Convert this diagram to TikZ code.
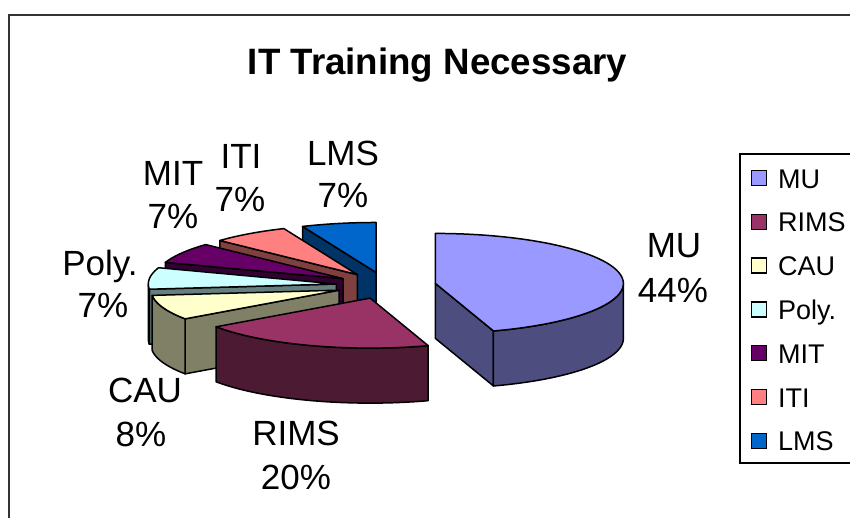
\documentclass[tikz,border=0pt]{standalone}
\usepackage{fontspec}
\setmainfont{Liberation Sans}
\definecolor{muTop}{HTML}{9999FF}
\definecolor{muDark}{HTML}{4D4D80}
\definecolor{rimsTop}{HTML}{993366}
\definecolor{rimsDark}{HTML}{4D1A33}
\definecolor{cauTop}{HTML}{FFFFCC}
\definecolor{cauDark}{HTML}{808066}
\definecolor{polyTop}{HTML}{CCFFFF}
\definecolor{polyDark}{HTML}{668080}
\definecolor{mitTop}{HTML}{660066}
\definecolor{mitDark}{HTML}{330033}
\definecolor{itiTop}{HTML}{FF8080}
\definecolor{itiDark}{HTML}{804040}
\definecolor{lmsTop}{HTML}{0066CC}
\definecolor{lmsDark}{HTML}{003366}
\newcommand\pcx{386}
\newcommand\pcy{285.5}
\newcommand\pexp{50}
\newcommand\prx{188}
\newcommand\pry{50}
\newcommand\pdep{55}
% #1 start angle, #2 end angle (clockwise from 12 o'clock), #3 top colour, #4 side colour, #5 name
\newcommand\pieslice[5]{%
  \pgfmathsetmacro\slmid{(#1+#2)/2}%
  \pgfmathsetmacro\slox{\pcx+\pexp*sin(\slmid)}%
  \pgfmathsetmacro\sloy{\pcy-\pexp*(\pry/\prx)*cos(\slmid)}%
  \coordinate (#5-o) at (\slox,\sloy);
  \coordinate (#5-ob) at (\slox,\sloy+\pdep);
  \coordinate (#5-a) at ({\slox+\prx*sin(#1)},{\sloy-\pry*cos(#1)});
  \coordinate (#5-b) at ({\slox+\prx*sin(#2)},{\sloy-\pry*cos(#2)});
  \pgfmathtruncatemacro\slsf{(#1>180) ? 1 : 0}%
  \pgfmathtruncatemacro\slef{(#2<180) ? 1 : 0}%
  \ifnum\slsf=1
    \filldraw[pieedge, fill=#4] (#5-o) -- (#5-a) -- ++(0,\pdep) -- (#5-ob) -- cycle;
  \fi
  \ifnum\slef=1
    \filldraw[pieedge, fill=#4] (#5-o) -- (#5-b) -- ++(0,\pdep) -- (#5-ob) -- cycle;
  \fi
  \pgfmathsetmacro\slc{max(#1,90)}%
  \pgfmathsetmacro\sld{min(#2,270)}%
  \pgfmathtruncatemacro\slrim{(\slc<\sld) ? 1 : 0}%
  \ifnum\slrim=1
    \filldraw[pieedge, fill=#4]
      plot[domain=\slc:\sld, samples=50] ({\slox+\prx*sin(\x)},{\sloy-\pry*cos(\x)})
      -- plot[domain=\sld:\slc, samples=50] ({\slox+\prx*sin(\x)},{\sloy+\pdep-\pry*cos(\x)})
      -- cycle;
  \fi
  \filldraw[pieedge, fill=#3] (#5-o)
    -- plot[domain=#1:#2, samples=60] ({\slox+\prx*sin(\x)},{\sloy-\pry*cos(\x)})
    -- cycle;
}
\begin{document}
\begin{tikzpicture}[x=1pt,y=-1pt,
  pieedge/.style={draw=black, line width=1.5pt, line join=round},
  lbl/.style={anchor=base, inner sep=0pt, font=\fontsize{35}{42}\selectfont},
  legtxt/.style={anchor=base west, inner sep=0pt, font=\fontsize{27}{32}\selectfont},
  legkey/.style={draw=black, line width=1.3pt, minimum size=15pt, inner sep=0pt}]
\useasboundingbox (0,0) rectangle (850,517);
\clip (0,0) rectangle (850,517);
\fill[white] (0,0) rectangle (850,517);
% outer frame
\draw[line width=2pt, black!80] (9,14.5) rectangle (880,560);
% title
\node[anchor=base, inner sep=0pt, font=\bfseries\fontsize{36.7}{44}\selectfont] (title) at (437.5,74) {IT Training Necessary};
% pie slices, back to front
\pieslice{337}{360}{lmsTop}{lmsDark}{lms}
\pieslice{313}{337}{itiTop}{itiDark}{iti}
\pieslice{289}{313}{mitTop}{mitDark}{mit}
\pieslice{264}{289}{polyTop}{polyDark}{poly}
\pieslice{235}{264}{cauTop}{cauDark}{cau}
\pieslice{162}{235}{rimsTop}{rimsDark}{rims}
\pieslice{0}{162}{muTop}{muDark}{mu}
% data labels
\node[lbl] (muA) at (674,257) {MU};
\node[lbl] (muB) at (673,302) {44\%};
\node[lbl] (rimsA) at (296,445) {RIMS};
\node[lbl] (rimsB) at (296,489) {20\%};
\node[lbl] (cauA) at (145,402) {CAU};
\node[lbl] (cauB) at (141,446) {8\%};
\node[lbl] (polyA) at (100,275) {Poly.};
\node[lbl] (polyB) at (103,317) {7\%};
\node[lbl] (mitA) at (173,185) {MIT};
\node[lbl] (mitB) at (173,228) {7\%};
\node[lbl] (itiA) at (241,168) {ITI};
\node[lbl] (itiB) at (240,211) {7\%};
\node[lbl] (lmsA) at (343,165) {LMS};
\node[lbl] (lmsB) at (343,207) {7\%};
% legend
\draw[line width=1.3pt, black] (740,154) rectangle (880,463);
\foreach \nm/\col [count=\i from 0] in {MU/muTop, RIMS/rimsTop, CAU/cauTop, Poly./polyTop, MIT/mitTop, ITI/itiTop, LMS/lmsTop}{
  \node[legkey, fill=\col] (key\i) at (759,{188+43.8*\i-10}) {};
  \node[legtxt] (leg\i) at (778,{188+43.8*\i}) {\nm};
}
\end{tikzpicture}
\end{document}
